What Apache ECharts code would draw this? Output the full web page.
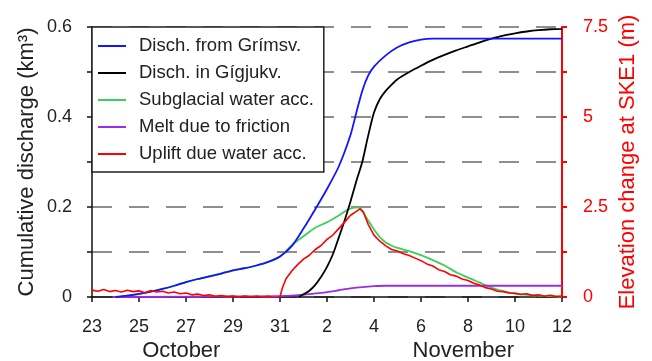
<!DOCTYPE html>
<html>
<head>
<meta charset="utf-8">
<script src="https://cdn.jsdelivr.net/npm/echarts@6/dist/echarts.min.js"></script>
<style>html,body{margin:0;padding:0;background:#fff}#c{width:652px;height:361px}</style>
</head>
<body>
<div id="c"></div>
<script>
// x values: days after 23 October (0 = Oct 23, 20 = Nov 12)
const xTickLabels = ['23','25','27','29','31','2','4','6','8','10','12'];
const yTickLabels = ['0','','0.2','','0.4','','0.6'];
const rTickLabels = ['0','','2.5','','5','','7.5'];
const months = ['October', 'November'];
const seriesNames = ['Disch. from Grímsv.', 'Disch. in Gígjukv.', 'Subglacial water acc.', 'Melt due to friction', 'Uplift due water acc.'];

// Discharge from Grímsvötn (km3)
const blueDays = [1, 1.5, 2, 2.5, 3, 3.5, 4, 4.5, 5, 5.5, 6, 6.5, 7, 7.5, 8, 8.5, 9, 9.5, 10, 10.5, 11, 11.25, 11.5, 11.75, 12, 12.5, 13, 13.5, 14, 14.5, 20];
const blueVals = [0, 0.003, 0.007, 0.012, 0.018, 0.025, 0.033, 0.04, 0.046, 0.052, 0.059, 0.064, 0.07, 0.078, 0.09, 0.113, 0.152, 0.195, 0.24, 0.29, 0.36, 0.41, 0.458, 0.492, 0.512, 0.537, 0.555, 0.566, 0.572, 0.574, 0.574];

// Discharge in Gígjukvísl (km3)
const blackDays = [8.8, 9, 9.25, 9.5, 9.75, 10, 10.25, 10.5, 10.75, 11, 11.25, 11.5, 11.75, 12, 12.25, 12.5, 12.75, 13, 13.5, 14, 14.5, 15, 15.5, 16, 16.5, 17, 17.5, 18, 18.5, 19, 19.5, 20];
const blackVals = [0, 0.006, 0.014, 0.027, 0.045, 0.067, 0.095, 0.132, 0.17, 0.212, 0.258, 0.3, 0.358, 0.41, 0.44, 0.458, 0.472, 0.484, 0.5, 0.514, 0.527, 0.538, 0.548, 0.557, 0.566, 0.574, 0.581, 0.586, 0.59, 0.593, 0.595, 0.596];

// Subglacial water accumulation (km3)
const greenDays = [1, 1.5, 2, 2.5, 3, 3.5, 4, 4.5, 5, 5.5, 6, 6.5, 7, 7.5, 8, 8.5, 9, 9.5, 10, 10.5, 10.85, 11.1, 11.3, 11.45, 11.6, 11.8, 12, 12.25, 12.5, 12.75, 13, 13.5, 14, 14.5, 15, 15.5, 16, 16.5, 17, 17.5, 18, 18.5, 19, 19.5, 20];
const greenVals = [0, 0.003, 0.007, 0.012, 0.018, 0.025, 0.033, 0.04, 0.046, 0.052, 0.059, 0.064, 0.07, 0.078, 0.09, 0.115, 0.135, 0.154, 0.166, 0.181, 0.193, 0.198, 0.199, 0.195, 0.183, 0.166, 0.15, 0.133, 0.121, 0.114, 0.109, 0.102, 0.093, 0.082, 0.07, 0.055, 0.043, 0.032, 0.021, 0.013, 0.008, 0.005, 0.003, 0.002, 0.001];

// Melt due to friction (km3)
const purpleDays = [0.9, 8, 8.5, 9, 9.5, 10, 10.5, 11, 11.5, 12, 12.5, 20];
const purpleVals = [0, 0.002, 0.003, 0.005, 0.008, 0.011, 0.015, 0.019, 0.022, 0.024, 0.025, 0.025];

// Uplift at SKE1 (m, right axis)
const redDays = [0, 0.25, 0.5, 0.75, 1, 1.25, 1.5, 1.75, 2, 2.25, 2.5, 2.75, 3, 3.25, 3.5, 3.75, 4, 4.25, 4.5, 4.75, 5, 5.25, 5.5, 5.75, 6, 6.25, 6.5, 6.75, 7, 7.25, 7.5, 7.75, 8, 8.1, 8.25, 8.5, 8.75, 9, 9.25, 9.5, 9.75, 10, 10.25, 10.5, 10.75, 11, 11.25, 11.4, 11.55, 11.75, 12, 12.25, 12.5, 12.75, 13, 13.25, 13.5, 13.75, 14, 14.25, 14.5, 14.75, 15, 15.25, 15.5, 15.75, 16, 16.25, 16.5, 16.75, 17, 17.25, 17.5, 17.75, 18, 18.25, 18.5, 18.75, 19, 19.25, 19.5, 19.75, 20];
const redVals = [0.19, 0.16, 0.21, 0.15, 0.18, 0.14, 0.19, 0.15, 0.17, 0.12, 0.18, 0.14, 0.16, 0.11, 0.14, 0.09, 0.11, 0.06, 0.08, 0.04, 0.06, 0.02, 0.04, 0.01, 0.03, 0.0, 0.03, 0.0, 0.02, -0.01, 0.02, -0.03, 0.0, 0.25, 0.5, 0.72, 0.9, 1.05, 1.16, 1.32, 1.43, 1.6, 1.72, 1.9, 2.08, 2.27, 2.38, 2.45, 2.36, 2.02, 1.72, 1.55, 1.42, 1.32, 1.28, 1.2, 1.15, 1.08, 1.01, 0.92, 0.86, 0.76, 0.71, 0.62, 0.58, 0.5, 0.46, 0.38, 0.33, 0.26, 0.22, 0.16, 0.15, 0.11, 0.1, 0.07, 0.09, 0.04, 0.06, 0.02, 0.05, 0.01, 0.03];

const zip = (a, b) => a.map((d, i) => [d, b[i]]);
const FONT = '"Liberation Sans", Arial, sans-serif';

const chart = echarts.init(document.getElementById('c'), null, {renderer: 'canvas'});
const lineSeries = (name, color, data, extra) => Object.assign({
  name, type: 'line', data, color, showSymbol: false, symbol: 'none',
  lineStyle: {width: 1.8, color}, smooth: 0.25
}, extra || {});

chart.setOption({
  animation: false,
  grid: {left: 92, right: 90, top: 27, bottom: 64},
  legend: {
    orient: 'vertical', left: 92, top: 27,
    data: seriesNames,
    icon: 'rect', itemWidth: 28, itemHeight: 2, itemGap: 7,
    padding: [9, 10, 8, 6],
    backgroundColor: '#fff', borderColor: '#222', borderWidth: 1.5,
    textStyle: {fontFamily: FONT, fontSize: 18.5, color: '#222', lineHeight: 20, padding: [0, 0, 0, 8]},
    z: 10
  },
  xAxis: {
    type: 'value', min: 0, max: 20, interval: 2,
    axisLine: {lineStyle: {color: '#111', width: 1.5}},
    axisTick: {show: true, length: 5, lineStyle: {color: '#111', width: 1.5}},
    axisLabel: {fontFamily: FONT, fontSize: 18, color: '#222', margin: 21,
      formatter: v => xTickLabels[Math.round(v / 2)] ?? ''},
    splitLine: {show: false}
  },
  yAxis: [{
    type: 'value', min: 0, max: 0.6, interval: 0.1,
    axisLine: {show: true, lineStyle: {color: '#111', width: 1.5}},
    axisTick: {show: true, length: 5, lineStyle: {color: '#111', width: 1.5}},
    axisLabel: {fontFamily: FONT, fontSize: 18, color: '#222', margin: 20,
      formatter: v => yTickLabels[Math.round(v * 10)] ?? ''},
    splitLine: {show: true, lineStyle: {color: '#6a6a6a', width: 1.5, type: [20, 17]}}
  }, {
    type: 'value', min: 0, max: 7.5, interval: 1.25, position: 'right',
    axisLine: {show: true, lineStyle: {color: '#ff0000', width: 2}},
    axisTick: {show: true, length: 5, lineStyle: {color: '#ff0000', width: 2}},
    axisLabel: {fontFamily: FONT, fontSize: 18, color: '#ff0000', margin: 21,
      formatter: v => rTickLabels[Math.round(v / 1.25)] ?? ''},
    splitLine: {show: false}
  }],
  series: [
    lineSeries(seriesNames[0], '#1414ff', zip(blueDays, blueVals), {z: 4}),
    lineSeries(seriesNames[1], '#000000', zip(blackDays, blackVals), {z: 3}),
    lineSeries(seriesNames[2], '#3ccf5a', zip(greenDays, greenVals), {z: 2}),
    lineSeries(seriesNames[3], '#9a2ee6', zip(purpleDays, purpleVals), {z: 2}),
    lineSeries(seriesNames[4], '#ff0000', zip(redDays, redVals), {z: 5, yAxisIndex: 1, smooth: false, lineStyle: {width: 1.6, color: '#ff0000'}})
  ]
});

const g = chart.getModel().getComponent('grid').coordinateSystem.getRect();
chart.setOption({
  graphic: [
    {type: 'text', x: 27, y: g.y + g.height / 2, rotation: Math.PI / 2,
      style: {text: 'Cumulative discharge (km³)', fontFamily: FONT, fontSize: 22, fill: '#222', align: 'center', verticalAlign: 'middle'}},
    {type: 'text', x: 628, y: g.y + g.height / 2, rotation: Math.PI / 2,
      style: {text: 'Elevation change at SKE1 (m)', fontFamily: FONT, fontSize: 22, fill: '#ff0000', align: 'center', verticalAlign: 'middle'}},
    {type: 'text', x: chart.convertToPixel({xAxisIndex: 0}, 3.8), y: 351,
      style: {text: months[0], fontFamily: FONT, fontSize: 22, fill: '#222', align: 'center', verticalAlign: 'middle'}},
    {type: 'text', x: chart.convertToPixel({xAxisIndex: 0}, 15.8), y: 351,
      style: {text: months[1], fontFamily: FONT, fontSize: 22, fill: '#222', align: 'center', verticalAlign: 'middle'}}
  ]
});
</script>
</body>
</html>
